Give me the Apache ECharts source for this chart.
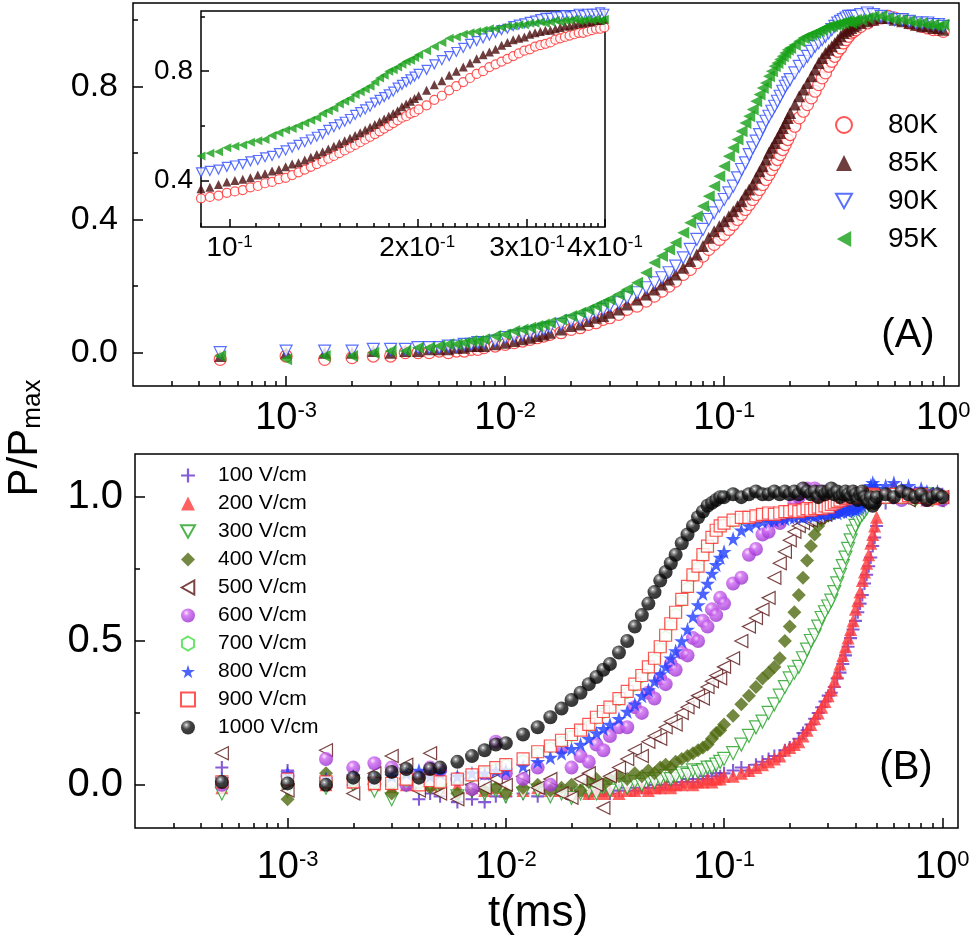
<!DOCTYPE html>
<html><head><meta charset="utf-8">
<script src="https://cdn.jsdelivr.net/npm/echarts@6/dist/echarts.min.js"></script>
<style>html,body{margin:0;padding:0;background:#fff}#c{width:980px;height:939px}</style>
</head><body><div id="c"></div>
<script>
// ---------- Panel A main data (time in ms, P/Pmax) ----------
const tA = [0.0005,0.001,0.0015,0.002,0.0025,0.003,0.0035,0.004,0.0045,0.005,0.0055,0.006,0.0065,0.007,0.0075,0.008,
0.009,0.01,
0.011,0.012,0.013,0.014,0.015,0.016,
0.018,0.02,0.022,0.024,0.026,0.028,0.03,
0.033,0.036,
0.04,0.044,0.048,0.052,0.056,
0.06,0.065,0.07,0.075,0.08,0.085,
0.09,0.095,0.1,0.105,0.11,0.115,0.12,0.125,0.13,0.135,0.14,0.145,0.15,0.155,0.16,0.165,0.17,0.175,0.18,0.185,0.19,0.195,0.2,
0.21,0.22,0.23,0.24,0.25,0.26,0.27,0.28,0.29,0.3,0.31,0.32,0.33,0.34,0.35,0.36,0.37,0.38,0.39,0.4,
0.42,0.45,0.48,0.52,0.56,0.6,0.65,0.7,0.75,0.8,0.85,0.9,0.95,1.0];

const a80 = [-0.02,-0.01,-0.02,-0.015,-0.01,-0.01,0.0,0.0,0.0,0.005,0.0,0.005,0.005,0.01,0.01,0.015,
0.02,0.025,
0.03,0.035,0.04,0.045,0.05,0.055,
0.06,0.07,0.075,0.085,0.09,0.1,0.105,
0.115,0.13,
0.14,0.155,0.17,0.185,0.2,
0.215,0.235,0.25,0.27,0.29,0.31,
0.325,0.34,0.355,0.37,0.385,0.4,0.415,0.43,0.445,0.46,0.475,0.49,0.505,0.52,0.535,0.55,0.565,0.58,0.595,0.61,0.625,0.64,0.655,
0.68,0.705,0.725,0.745,0.765,0.785,0.805,0.825,0.84,0.86,0.875,0.89,0.905,0.915,0.93,0.94,0.95,0.96,0.965,0.97,
0.98,0.99,1.0,1.005,1.01,1.005,1.0,0.99,0.985,0.98,0.975,0.97,0.97,0.965];

const a85 = [-0.01,0.0,0.0,0.0,0.005,0.0,0.005,0.005,0.01,0.01,0.01,0.015,0.015,0.02,0.02,0.02,
0.025,0.03,
0.035,0.04,0.045,0.05,0.055,0.06,
0.07,0.08,0.085,0.095,0.105,0.11,0.12,
0.13,0.145,
0.16,0.175,0.19,0.205,0.22,
0.235,0.255,0.275,0.295,0.32,0.345,
0.365,0.38,0.395,0.41,0.425,0.44,0.455,0.475,0.49,0.505,0.525,0.545,0.56,0.58,0.6,0.615,0.63,0.645,0.66,0.675,0.69,0.705,0.72,
0.745,0.77,0.79,0.81,0.83,0.85,0.87,0.885,0.9,0.91,0.92,0.93,0.94,0.95,0.96,0.965,0.97,0.975,0.98,0.985,
0.99,0.995,1.0,1.005,1.005,1.0,0.995,0.99,0.985,0.98,0.98,0.975,0.975,0.97];

const a90 = [0.0,0.005,0.005,0.005,0.01,0.01,0.01,0.015,0.015,0.015,0.02,0.02,0.025,0.025,0.03,0.03,
0.035,0.045,
0.05,0.055,0.06,0.065,0.07,0.075,
0.085,0.095,0.1,0.11,0.12,0.13,0.14,
0.15,0.165,
0.18,0.195,0.21,0.225,0.24,
0.26,0.285,0.31,0.34,0.37,0.4,
0.42,0.44,0.46,0.48,0.5,0.525,0.55,0.57,0.595,0.615,0.635,0.655,0.675,0.695,0.71,0.725,0.74,0.755,0.77,0.785,0.8,0.81,0.82,
0.84,0.86,0.875,0.89,0.905,0.92,0.93,0.94,0.95,0.96,0.97,0.98,0.99,0.995,1.0,1.005,1.01,1.01,1.01,1.01,
1.015,1.02,1.015,1.01,1.005,1.0,1.0,0.995,0.99,0.99,0.99,0.985,0.985,0.98];

const a95 = [-0.01,-0.02,-0.01,-0.01,0.0,0.005,0.005,0.015,0.015,0.02,0.025,0.025,0.03,0.035,0.035,0.04,
0.05,0.055,
0.065,0.07,0.075,0.08,0.085,0.09,
0.1,0.11,0.12,0.13,0.14,0.15,0.16,
0.175,0.19,
0.21,0.24,0.27,0.29,0.31,
0.33,0.36,0.39,0.41,0.44,0.47,
0.5,0.53,0.56,0.59,0.615,0.64,0.665,0.69,0.71,0.73,0.755,0.775,0.795,0.81,0.83,0.845,0.86,0.87,0.88,0.89,0.9,0.91,0.915,
0.925,0.935,0.945,0.95,0.955,0.96,0.965,0.97,0.975,0.98,0.98,0.985,0.985,0.99,0.99,0.995,0.995,0.99,0.995,1.0,
1.0,1.005,1.01,1.01,1.005,1.0,1.0,0.995,0.99,0.99,0.985,0.985,0.98,0.985];

// ---------- Panel A inset data ----------
const tI = [0.09,0.093,0.096,0.099,0.102,0.105,0.108,0.111,0.114,0.117,0.12,0.123,0.126,0.129,0.132,0.135,0.138,0.141,0.144,0.147,0.15,0.153,0.156,0.159,0.162,0.165,0.168,0.171,0.174,0.177,0.18,0.183,0.186,0.189,0.192,0.195,0.198,0.201,
0.207,0.213,0.219,0.225,0.231,0.237,0.243,0.249,0.255,0.261,0.267,0.273,0.279,0.285,0.291,0.297,0.303,0.309,0.315,0.321,0.327,0.333,0.339,0.345,0.351,0.357,0.363,0.369,0.375,0.381,0.387,0.393,0.399];

const i80 = [0.335,0.34,0.345,0.355,0.36,0.365,0.375,0.38,0.39,0.395,0.405,0.41,0.42,0.43,0.44,0.45,0.46,0.47,0.48,0.49,0.5,0.51,0.52,0.53,0.54,0.55,0.56,0.57,0.58,0.59,0.6,0.61,0.62,0.63,0.635,0.645,0.65,0.66,
0.675,0.695,0.71,0.73,0.745,0.76,0.775,0.79,0.8,0.815,0.825,0.835,0.845,0.855,0.865,0.875,0.88,0.89,0.895,0.9,0.905,0.915,0.92,0.925,0.93,0.935,0.94,0.94,0.945,0.95,0.955,0.955,0.96];
const i85 = [0.37,0.375,0.385,0.395,0.4,0.405,0.41,0.42,0.425,0.435,0.44,0.45,0.46,0.465,0.475,0.485,0.495,0.505,0.515,0.525,0.535,0.545,0.555,0.565,0.575,0.585,0.595,0.605,0.615,0.625,0.635,0.645,0.655,0.67,0.68,0.69,0.7,0.71,
0.73,0.75,0.765,0.785,0.8,0.815,0.83,0.845,0.86,0.87,0.88,0.895,0.905,0.915,0.92,0.925,0.935,0.94,0.945,0.95,0.95,0.955,0.96,0.965,0.965,0.97,0.975,0.975,0.98,0.98,0.985,0.985,0.99];
const i90 = [0.43,0.435,0.44,0.45,0.455,0.46,0.47,0.475,0.485,0.49,0.5,0.51,0.52,0.53,0.54,0.55,0.56,0.57,0.585,0.595,0.605,0.615,0.625,0.64,0.65,0.66,0.67,0.685,0.695,0.705,0.715,0.725,0.74,0.75,0.76,0.77,0.78,0.79,
0.805,0.825,0.84,0.855,0.87,0.885,0.9,0.91,0.92,0.93,0.94,0.95,0.955,0.965,0.97,0.975,0.98,0.985,0.99,0.995,0.995,1.0,1.0,1.005,1.0,1.005,1.01,1.005,1.01,1.01,1.01,1.015,1.01];
const i95 = [0.49,0.5,0.505,0.52,0.525,0.53,0.54,0.545,0.55,0.565,0.575,0.585,0.59,0.6,0.61,0.62,0.63,0.645,0.655,0.665,0.68,0.69,0.7,0.715,0.725,0.735,0.745,0.76,0.775,0.785,0.8,0.805,0.815,0.825,0.835,0.84,0.85,0.86,
0.875,0.89,0.905,0.92,0.925,0.935,0.94,0.945,0.95,0.955,0.955,0.96,0.965,0.965,0.97,0.97,0.975,0.975,0.98,0.975,0.98,0.985,0.98,0.985,0.985,0.99,0.985,0.985,0.99,0.985,0.99,0.985,0.99];

// ---------- Panel B data ----------
const tB = [0.0005,0.001,0.0015,0.002,0.0025,0.003,0.0035,0.004,0.0045,0.005,
0.006,0.007,0.008,0.009,0.01,
0.012,0.014,0.016,0.018,0.02,0.022,0.024,0.026,0.028,0.03,
0.033,0.036,0.039,0.042,0.045,0.048,0.051,0.054,0.057,0.06,
0.064,0.068,0.072,0.076,0.08,0.084,0.088,0.092,0.096,0.1,
0.11,0.12,0.13,0.14,0.15,0.16,0.17,0.18,0.19,0.2,
0.21,0.22,0.23,0.24,0.25,0.26,0.27,0.28,0.29,0.3,0.31,0.32,0.33,0.34,0.35,0.36,0.37,0.38,0.39,0.4,0.41,0.42,0.43,0.44,0.45,0.46,0.47,0.48,0.49,0.5,
0.55,0.6,0.65,0.7,0.75,0.8,0.85,0.9,0.95,1.0];

const b100 = [0.06,0.05,0.02,0.0,0.01,0.0,0.02,-0.05,-0.03,-0.04,
-0.06,-0.05,-0.06,-0.04,-0.04,
-0.03,-0.04,-0.03,-0.02,-0.03,-0.02,-0.03,-0.02,-0.02,-0.03,
-0.02,-0.01,-0.02,-0.01,-0.01,0.0,-0.01,0.0,0.01,0.0,
0.01,0.02,0.01,0.02,0.03,0.02,0.03,0.04,0.03,0.04,
0.05,0.06,0.05,0.07,0.08,0.09,0.1,0.1,0.12,0.13,
0.14,0.16,0.18,0.19,0.21,0.23,0.25,0.27,0.29,0.31,0.32,0.34,0.37,0.39,0.42,0.45,0.48,0.51,0.54,0.57,0.6,0.63,0.66,0.7,0.73,0.76,0.79,0.83,0.86,0.9,
0.98,1.03,1.01,1.0,1.01,1.0,1.0,0.99,1.0,1.01];

const b200 = [-0.01,0.01,0.0,0.01,0.0,-0.01,0.0,0.01,0.0,-0.01,
-0.005,-0.01,-0.02,-0.01,-0.02,
-0.02,-0.01,-0.02,-0.02,-0.03,-0.02,-0.03,-0.02,-0.03,-0.02,
-0.03,-0.02,-0.02,-0.01,-0.02,-0.01,-0.01,0.0,-0.01,0.0,
0.0,0.01,0.0,0.01,0.01,0.02,0.01,0.02,0.02,0.03,
0.03,0.04,0.05,0.06,0.07,0.08,0.09,0.1,0.12,0.13,
0.14,0.15,0.17,0.19,0.21,0.23,0.25,0.27,0.29,0.31,0.33,0.36,0.39,0.42,0.45,0.48,0.51,0.54,0.57,0.61,0.64,0.67,0.71,0.74,0.77,0.8,0.84,0.87,0.9,0.93,
1.02,1.04,1.0,1.01,1.0,1.0,0.99,1.0,1.01,1.0];

const b300 = [-0.03,-0.02,-0.01,0.0,-0.02,-0.05,0.0,-0.01,0.0,-0.02,
-0.04,-0.02,-0.03,-0.02,-0.04,
-0.03,-0.02,-0.04,-0.03,-0.045,-0.03,-0.02,-0.03,-0.01,-0.02,
0.0,-0.01,0.01,0.0,0.02,0.01,0.02,0.03,0.02,0.03,
0.04,0.035,0.05,0.045,0.05,0.06,0.06,0.07,0.08,0.09,
0.11,0.14,0.17,0.2,0.22,0.25,0.28,0.31,0.34,0.37,
0.39,0.41,0.44,0.47,0.5,0.52,0.55,0.58,0.6,0.62,0.64,0.67,0.7,0.73,0.76,0.79,0.82,0.85,0.88,0.9,0.92,0.93,0.94,0.95,0.96,0.98,0.99,1.0,1.0,1.01,
1.0,1.01,1.0,1.0,0.99,1.0,1.01,1.0,1.0,0.99];

const b400 = [0.01,-0.05,0.04,0.03,0.02,-0.03,0.02,0.01,-0.01,0.0,
-0.03,-0.02,-0.02,-0.01,-0.03,
-0.01,0.0,-0.02,-0.01,0.0,-0.02,0.01,0.02,0.0,0.02,
0.03,0.02,0.04,0.03,0.05,0.04,0.06,0.07,0.06,0.08,
0.09,0.1,0.11,0.12,0.13,0.14,0.16,0.18,0.19,0.21,
0.24,0.28,0.31,0.34,0.37,0.39,0.41,0.44,0.5,0.55,
0.6,0.66,0.72,0.78,0.83,0.87,0.9,0.92,0.93,0.935,0.94,0.945,0.95,0.955,0.96,0.965,0.97,0.98,0.99,1.0,1.0,1.01,1.0,1.01,1.0,1.0,1.01,1.0,1.0,1.0,
1.0,1.0,1.01,1.0,0.99,1.0,1.0,1.01,1.0,0.99];

const b500 = [0.11,-0.02,0.12,-0.03,0.04,0.1,0.07,-0.02,0.11,-0.03,
-0.05,0.0,-0.01,0.02,0.0,
0.03,-0.01,0.02,-0.03,-0.045,0.02,0.04,0.0,-0.08,0.03,
0.06,0.09,0.12,0.1,0.15,0.17,0.16,0.2,0.22,0.21,
0.25,0.27,0.29,0.31,0.3,0.34,0.36,0.38,0.37,0.41,
0.44,0.5,0.55,0.58,0.61,0.65,0.72,0.77,0.81,0.85,
0.88,0.9,0.91,0.92,0.92,0.93,0.93,0.94,0.94,0.95,0.95,0.96,0.97,0.98,0.99,1.0,1.0,1.01,1.0,1.01,1.0,1.0,1.01,1.0,1.0,0.99,1.0,1.01,1.0,1.0,
1.0,1.01,1.0,0.99,1.0,1.0,1.01,1.0,0.99,1.0];

const b600 = [0.0,0.03,0.09,0.06,0.075,0.06,0.0,0.03,0.06,0.05,
0.02,-0.015,0.04,0.15,0.04,
0.02,0.06,0.0,0.13,0.06,0.1,0.08,0.14,0.12,0.17,
0.2,0.2,0.27,0.25,0.32,0.3,0.37,0.35,0.42,0.4,
0.46,0.45,0.51,0.5,0.57,0.55,0.61,0.59,0.65,0.63,
0.7,0.72,0.8,0.82,0.87,0.88,0.92,0.91,0.94,0.95,
0.98,1.0,1.02,1.03,1.02,1.03,1.02,1.01,1.02,1.01,1.0,1.01,1.0,1.01,1.0,0.99,1.0,1.01,1.0,0.99,1.0,1.0,1.01,1.0,0.99,1.0,1.0,1.01,1.0,0.99,
1.0,1.0,0.99,1.0,1.01,1.0,0.99,1.0,1.0,0.99];

const b700 = [0.015,0.02,0.01,0.015,0.01,0.005,0.015,0.005,0.01,0.01,
0.02,0.03,0.045,0.055,0.07,
0.085,0.11,0.13,0.15,0.17,0.19,0.205,0.23,0.25,0.27,
0.295,0.32,0.345,0.375,0.405,0.435,0.475,0.515,0.555,0.595,
0.64,0.685,0.725,0.755,0.795,0.825,0.855,0.88,0.895,0.905,
0.915,0.925,0.925,0.93,0.935,0.94,0.935,0.94,0.945,0.945,
0.95,0.945,0.95,0.955,0.95,0.955,0.96,0.955,0.965,0.96,0.97,0.975,0.98,0.985,0.995,0.99,0.995,1.0,0.995,1.005,0.995,1.0,1.005,0.995,1.0,1.005,0.995,1.005,1.0,0.995,
0.995,1.005,0.995,1.0,0.995,1.005,0.995,0.99,0.995,0.995];

const b800 = [0.02,0.04,0.02,0.03,0.02,0.03,0.04,0.05,0.03,0.04,
0.03,0.04,0.04,0.05,0.05,
0.065,0.08,0.095,0.11,0.125,0.14,0.16,0.18,0.195,0.21,
0.23,0.255,0.28,0.31,0.33,0.36,0.385,0.41,0.44,0.465,
0.5,0.54,0.585,0.625,0.665,0.7,0.735,0.765,0.79,0.81,
0.855,0.885,0.9,0.91,0.915,0.92,0.92,0.925,0.925,0.93,
0.93,0.935,0.93,0.935,0.94,0.935,0.94,0.94,0.945,0.94,0.945,0.95,0.945,0.95,0.95,0.955,0.95,0.955,0.96,0.955,0.96,0.965,0.97,0.98,1.0,1.02,1.04,1.05,1.04,1.03,
1.04,1.05,1.03,1.04,1.02,1.03,1.02,1.01,1.02,1.0];

const b900 = [0.01,0.02,0.01,0.01,0.005,0.005,0.02,0.0,0.015,0.01,
0.02,0.035,0.045,0.06,0.07,
0.09,0.115,0.135,0.155,0.175,0.19,0.21,0.235,0.255,0.27,
0.3,0.325,0.35,0.38,0.41,0.44,0.48,0.52,0.56,0.6,
0.645,0.69,0.73,0.76,0.8,0.83,0.86,0.885,0.9,0.91,
0.92,0.93,0.93,0.935,0.94,0.945,0.94,0.945,0.95,0.95,
0.955,0.95,0.955,0.96,0.955,0.96,0.965,0.96,0.97,0.965,0.975,0.98,0.985,0.99,1.0,0.995,1.0,1.005,1.0,1.01,1.0,1.005,1.01,1.0,1.005,1.01,1.0,1.01,1.005,1.0,
1.0,1.01,1.0,1.005,1.0,1.01,1.0,0.995,1.0,1.0];

const b1000 = [0.01,0.005,0.0,0.025,0.025,0.045,0.055,0.025,0.055,0.06,
0.08,0.1,0.12,0.14,0.145,
0.175,0.2,0.235,0.265,0.295,0.32,0.35,0.375,0.4,0.42,
0.46,0.5,0.55,0.59,0.63,0.67,0.71,0.74,0.77,0.8,
0.84,0.87,0.9,0.93,0.95,0.97,0.98,0.99,1.0,1.0,
1.01,1.0,1.01,1.02,1.01,1.01,1.02,1.01,1.02,1.01,
1.02,1.01,1.03,1.02,1.01,1.02,1.0,1.02,1.01,1.02,1.03,1.01,1.02,1.0,1.01,1.02,1.01,1.0,1.02,1.01,0.99,1.01,1.02,1.0,0.99,0.98,1.0,0.97,0.98,1.0,
1.01,1.0,1.02,1.01,1.0,1.01,0.99,1.0,1.01,1.0];

// ---------- names & ticks ----------
const namesA = ['80K','85K','90K','95K'];
const namesB = ['100 V/cm','200 V/cm','300 V/cm','400 V/cm','500 V/cm','600 V/cm','700 V/cm','800 V/cm','900 V/cm','1000 V/cm'];
const decadeTicks = [0.001,0.01,0.1,1];
const decadeMinor = [0.0003,0.0004,0.0005,0.0006,0.0007,0.0008,0.0009,0.002,0.003,0.004,0.005,0.006,0.007,0.008,0.009,0.02,0.03,0.04,0.05,0.06,0.07,0.08,0.09,0.2,0.3,0.4,0.5,0.6,0.7,0.8,0.9];
const insetMajor = [0.1,0.2,0.3,0.4];
const insetMinor = [0.09,0.11,0.12,0.13,0.14,0.15,0.16,0.17,0.18,0.19,0.21,0.22,0.23,0.24,0.25,0.26,0.27,0.28,0.29,0.31,0.32,0.33,0.34,0.35,0.36,0.37,0.38,0.39];
const yMajorA = [0,0.4,0.8], yMinorA = [0.2,0.6,1.0];
const yMajorI = [0.4,0.8], yMinorI = [0.6,1.0];
const yMajorB = [0,0.5,1.0], yMinorB = [0.25,0.75];

// ---------- styling ----------
const FONT = "'Liberation Sans', Arial, Helvetica, sans-serif";
const SYM = {
  plus: 'path://M4.2,0H5.8V4.2H10V5.8H5.8V10H4.2V5.8H0V4.2H4.2Z',
  down: 'path://M0,0H10L5,9Z',
  left: 'path://M0,5L9,0V10Z',
  hex: 'path://M5,0L9.33,2.5V7.5L5,10L0.67,7.5V2.5Z',
  star: 'path://M5,0L6.18,3.62H10L6.91,5.85L8.09,9.47L5,7.24L1.91,9.47L3.09,5.85L0,3.62H3.82Z'
};
function hollow(c){ return {color:'#ffffff', borderColor:c, borderWidth:1.2}; }
function filled(c){ return {color:c}; }
function sphere(stops){ return {color:{type:'radial',x:0.38,y:0.32,r:0.7,colorStops:stops.map(s=>({offset:s[0],color:s[1]}))}}; }
function pts(ts, vs){ return ts.map((t,i)=>[t, vs[i]]); }

const styleA = [
  {symbol:'circle', st:hollow('#ff2a2a'), s:12},
  {symbol:'triangle', st:filled('#4a0c0c'), s:12},
  {symbol:SYM.down, st:hollow('#2f4cff'), s:12},
  {symbol:SYM.left, st:filled('#16a016'), s:12}
];
const dataA = [a80,a85,a90,a95];
const dataI = [i80,i85,i90,i95];
const styleB = [
  {symbol:SYM.plus, st:filled('#6633cc'), s:13},
  {symbol:'triangle', st:filled('#ff3a3a'), s:13},
  {symbol:SYM.down, st:hollow('#22a022'), s:13},
  {symbol:'diamond', st:filled('#506b12'), s:14},
  {symbol:SYM.left, st:hollow('#5a1414'), s:13},
  {symbol:'circle', st:sphere([[0,'#ffe0ff'],[0.3,'#cc66f0'],[1,'#9a30d0']]), s:14},
  {symbol:SYM.hex, st:hollow('#44dd44'), s:11},
  {symbol:SYM.star, st:filled('#1f3dff'), s:15},
  {symbol:'rect', st:hollow('#ff2a2a'), s:12},
  {symbol:'circle', st:sphere([[0,'#e8ffff'],[0.15,'#8a8a8a'],[0.45,'#141414'],[1,'#000000']]), s:14}
];
const dataB = [b100,b200,b300,b400,b500,b600,b700,b800,b900,b1000];

const series = [];
dataA.forEach((d,i)=>series.push({type:'scatter', name:namesA[i], xAxisIndex:0, yAxisIndex:0,
  data:pts(tA,d), symbol:styleA[i].symbol, symbolSize:styleA[i].s, itemStyle:styleA[i].st, silent:true}));
dataI.forEach((d,i)=>series.push({type:'scatter', name:namesA[i], xAxisIndex:2, yAxisIndex:2,
  data:pts(tI,d), symbol:styleA[i].symbol, symbolSize:9, itemStyle:styleA[i].st, silent:true}));
dataB.forEach((d,i)=>series.push({type:'scatter', name:namesB[i], xAxisIndex:4, yAxisIndex:4,
  data:pts(tB,d), symbol:styleB[i].symbol, symbolSize:styleB[i].s, itemStyle:styleB[i].st, silent:true}));

function expLabel(v){ return '{b|10}{s|' + Math.round(Math.log10(v)) + '}'; }
function insetLabel(v){ const k = Math.round(v*10); return k===1 ? '{b|10}{s|-1}' : '{b|' + k + 'x10}{s|-1}'; }
function rich(b,s){ return {b:{fontSize:b,fontFamily:FONT,color:'#000'}, s:{fontSize:s,fontFamily:FONT,color:'#000',verticalAlign:'top'}}; }

function xAx(gi,min,max,ticks,len,label){
  return {gridIndex:gi, type:'log', logBase:10, min:min, max:max, position:'bottom',
    axisLine:{show:false,onZero:false}, splitLine:{show:false}, minorTick:{show:false},
    axisTick:{show:true,inside:true,length:len,customValues:ticks,lineStyle:{color:'#000',width:1.5}},
    axisLabel: label ? Object.assign({customValues:ticks, color:'#000'}, label) : {show:false}};
}
function yAx(gi,min,max,ticks,len,label){
  return {gridIndex:gi, type:'value', min:min, max:max, position:'left',
    axisLine:{show:false,onZero:false}, splitLine:{show:false}, minorTick:{show:false},
    axisTick:{show:true,inside:true,length:len,customValues:ticks,lineStyle:{color:'#000',width:1.5}},
    axisLabel: label ? Object.assign({customValues:ticks, color:'#000', fontFamily:FONT, formatter:v=>v.toFixed(1)}, label) : {show:false}};
}
const gridBase = {show:true, borderColor:'#000', borderWidth:1.5, backgroundColor:'transparent', containLabel:false, outerBoundsMode:'none'};

const option = {
  animation:false,
  backgroundColor:'#ffffff',
  textStyle:{fontFamily:FONT},
  grid:[
    Object.assign({left:133, top:3, width:826, height:383}, gridBase),
    Object.assign({left:201, top:11, width:404, height:216}, gridBase),
    Object.assign({left:135, top:454, width:823, height:374}, gridBase)
  ],
  xAxis:[
    xAx(0,2e-4,1.18,decadeTicks,10,{formatter:expLabel, rich:rich(38,22), margin:14}),
    xAx(0,2e-4,1.18,decadeMinor,5,null),
    xAx(1,0.09,0.4,insetMajor,8,{formatter:insetLabel, rich:rich(28,17), margin:7}),
    xAx(1,0.09,0.4,insetMinor,4,null),
    xAx(2,2e-4,1.18,decadeTicks,10,{formatter:expLabel, rich:rich(38,22), margin:21}),
    xAx(2,2e-4,1.18,decadeMinor,5,null)
  ],
  yAxis:[
    yAx(0,-0.1,1.05,yMajorA,10,{fontSize:34, margin:15}),
    yAx(0,-0.1,1.05,yMinorA,5,null),
    yAx(1,0.23,1.02,yMajorI,8,{fontSize:28, margin:8}),
    yAx(1,0.23,1.02,yMinorI,4,null),
    yAx(2,-0.15,1.15,yMajorB,10,{fontSize:40, margin:12}),
    yAx(2,-0.15,1.15,yMinorB,5,null)
  ],
  legend:[
    {data:namesA, orient:'vertical', left:830, top:106, itemWidth:16, itemHeight:16, itemGap:10, selectedMode:false,
     textStyle:{fontSize:28, lineHeight:28, fontFamily:FONT, color:'#000', padding:[0,0,0,31]}},
    {data:namesB, orient:'vertical', left:175, top:460, itemWidth:14, itemHeight:14, itemGap:7, selectedMode:false,
     textStyle:{fontSize:21, lineHeight:21, fontFamily:FONT, color:'#000', padding:[0,0,0,18]}}
  ],
  graphic:[
    {type:'text', x:25, y:438, rotation:Math.PI/2, style:{text:'{a|P/P}{m|max}', align:'center', verticalAlign:'middle', fill:'#000',
      rich:{a:{fontSize:42, lineHeight:42, fontFamily:FONT, fill:'#000', verticalAlign:'top'}, m:{fontSize:26, lineHeight:26, fontFamily:FONT, fill:'#000', verticalAlign:'bottom', padding:[30,0,0,0]}}}},
    {type:'text', x:538, y:914, style:{text:'t(ms)', fontSize:44, fontFamily:FONT, fill:'#000', align:'center', verticalAlign:'middle'}},
    {type:'text', x:908, y:336, style:{text:'(A)', fontSize:40, fontFamily:FONT, fill:'#000', align:'center', verticalAlign:'middle'}},
    {type:'text', x:906, y:768, style:{text:'(B)', fontSize:40, fontFamily:FONT, fill:'#000', align:'center', verticalAlign:'middle'}}
  ],
  series:series
};
const chart = echarts.init(document.getElementById('c'), null, {renderer:'canvas'});
chart.setOption(option);
</script>
</body></html>
